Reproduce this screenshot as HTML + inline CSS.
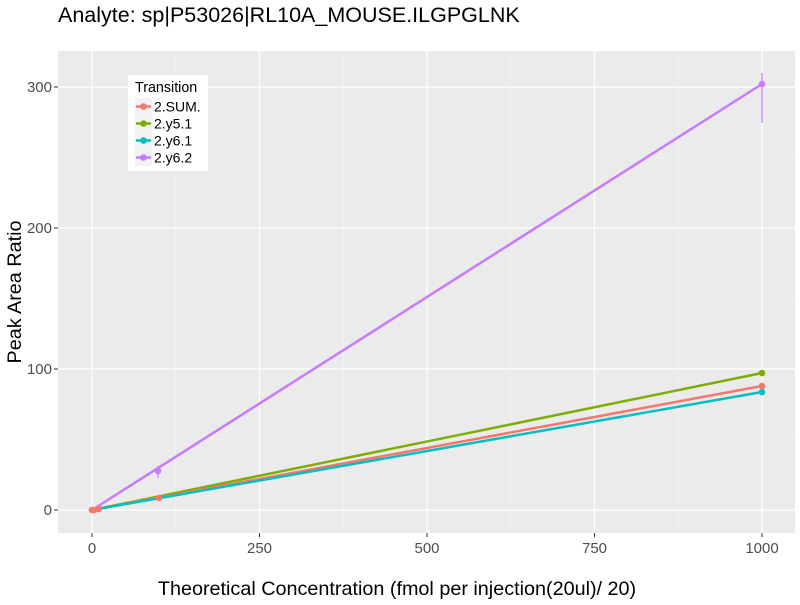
<!DOCTYPE html><html><head><style>body{margin:0;background:#fff}svg{font-family:"Liberation Sans",sans-serif}</style></head><body>
<svg width="800" height="600" viewBox="0 0 800 600">
<rect width="800" height="600" fill="#fff"/>
<text x="58" y="22" font-size="21.5" fill="#000">Analyte: sp|P53026|RL10A_MOUSE.ILGPGLNK</text>
<rect x="58" y="51" width="737" height="482" fill="#ebebeb"/>
<g stroke="#f5f5f5" stroke-width="0.6">
<line x1="58" x2="795" y1="439.5" y2="439.5"/><line x1="58" x2="795" y1="298.5" y2="298.5"/><line x1="58" x2="795" y1="157.5" y2="157.5"/>
<line x1="175.5" x2="175.5" y1="51" y2="533"/><line x1="343.5" x2="343.5" y1="51" y2="533"/><line x1="510.5" x2="510.5" y1="51" y2="533"/><line x1="678.5" x2="678.5" y1="51" y2="533"/>
</g>
<g stroke="#fff" stroke-width="1.2">
<line x1="58" x2="795" y1="510" y2="510"/><line x1="58" x2="795" y1="369" y2="369"/><line x1="58" x2="795" y1="228" y2="228"/><line x1="58" x2="795" y1="87" y2="87"/>
<line x1="92" x2="92" y1="51" y2="533"/><line x1="259.5" x2="259.5" y1="51" y2="533"/><line x1="427" x2="427" y1="51" y2="533"/><line x1="594.5" x2="594.5" y1="51" y2="533"/><line x1="762" x2="762" y1="51" y2="533"/>
</g>
<g stroke="#333" stroke-width="1">
<line x1="54" x2="58" y1="510" y2="510"/><line x1="54" x2="58" y1="369" y2="369"/><line x1="54" x2="58" y1="228" y2="228"/><line x1="54" x2="58" y1="87" y2="87"/>
<line x1="92" x2="92" y1="533" y2="537"/><line x1="259.5" x2="259.5" y1="533" y2="537"/><line x1="427" x2="427" y1="533" y2="537"/><line x1="594.5" x2="594.5" y1="533" y2="537"/><line x1="762" x2="762" y1="533" y2="537"/>
</g>
<g font-size="15" fill="#4d4d4d" text-anchor="end">
<text x="52" y="515">0</text><text x="52" y="374">100</text><text x="52" y="233">200</text><text x="52" y="92">300</text>
</g>
<g font-size="15" fill="#4d4d4d" text-anchor="middle">
<text x="92" y="553">0</text><text x="259.5" y="553">250</text><text x="427" y="553">500</text><text x="594.5" y="553">750</text><text x="762" y="553">1000</text>
</g>
<text x="397" y="595" font-size="19.8" text-anchor="middle">Theoretical Concentration (fmol per injection(20ul)/ 20)</text>
<text transform="translate(21,292) rotate(-90)" font-size="19.8" text-anchor="middle">Peak Area Ratio</text>
<g stroke-width="2.5" fill="none">
<line x1="92" y1="510" x2="762" y2="84" stroke="#c77cff"/>
<line x1="92" y1="510" x2="762" y2="373" stroke="#7cae00"/>
<line x1="92" y1="510" x2="762" y2="386" stroke="#f8766d"/>
<line x1="92" y1="510" x2="762" y2="392" stroke="#00bfc4"/>
</g>
<line x1="762" x2="762" y1="73" y2="123" stroke="#c77cff" stroke-width="1.2"/>
<line x1="158" x2="158" y1="466" y2="478" stroke="#c77cff" stroke-width="1.2"/>
<g>
<circle cx="762" cy="84" r="3.3" fill="#c77cff"/><circle cx="158" cy="471" r="3.3" fill="#c77cff"/><circle cx="98.7" cy="508" r="3" fill="#c77cff"/>
<circle cx="762" cy="373" r="3.3" fill="#7cae00"/>
<circle cx="762" cy="392" r="3.3" fill="#00bfc4"/>
<circle cx="762" cy="386" r="3.3" fill="#f8766d"/><circle cx="159" cy="498" r="3.3" fill="#f8766d"/><circle cx="98.7" cy="509" r="3.3" fill="#f8766d"/><circle cx="92" cy="510" r="3.3" fill="#f8766d"/><circle cx="94" cy="510" r="3.3" fill="#f8766d"/>
</g>
<rect x="128" y="75" width="80" height="96" fill="#fff"/>
<text x="135" y="92" font-size="14.3">Transition</text>
<g font-size="14">
<rect x="135" y="98" width="17" height="17" fill="#f2f2f2"/><line x1="136" x2="151" y1="106.5" y2="106.5" stroke="#f8766d" stroke-width="2.5"/><circle cx="143.5" cy="106.5" r="3.3" fill="#f8766d"/><text x="154" y="111.5">2.SUM.</text>
<rect x="135" y="115" width="17" height="17" fill="#f2f2f2"/><line x1="136" x2="151" y1="123.5" y2="123.5" stroke="#7cae00" stroke-width="2.5"/><circle cx="143.5" cy="123.5" r="3.3" fill="#7cae00"/><text x="154" y="128.5">2.y5.1</text>
<rect x="135" y="132" width="17" height="17" fill="#f2f2f2"/><line x1="136" x2="151" y1="140.5" y2="140.5" stroke="#00bfc4" stroke-width="2.5"/><circle cx="143.5" cy="140.5" r="3.3" fill="#00bfc4"/><text x="154" y="145.5">2.y6.1</text>
<rect x="135" y="149" width="17" height="17" fill="#f2f2f2"/><line x1="136" x2="151" y1="157.5" y2="157.5" stroke="#c77cff" stroke-width="2.5"/><circle cx="143.5" cy="157.5" r="3.3" fill="#c77cff"/><text x="154" y="162.5">2.y6.2</text>
</g>
</svg></body></html>
